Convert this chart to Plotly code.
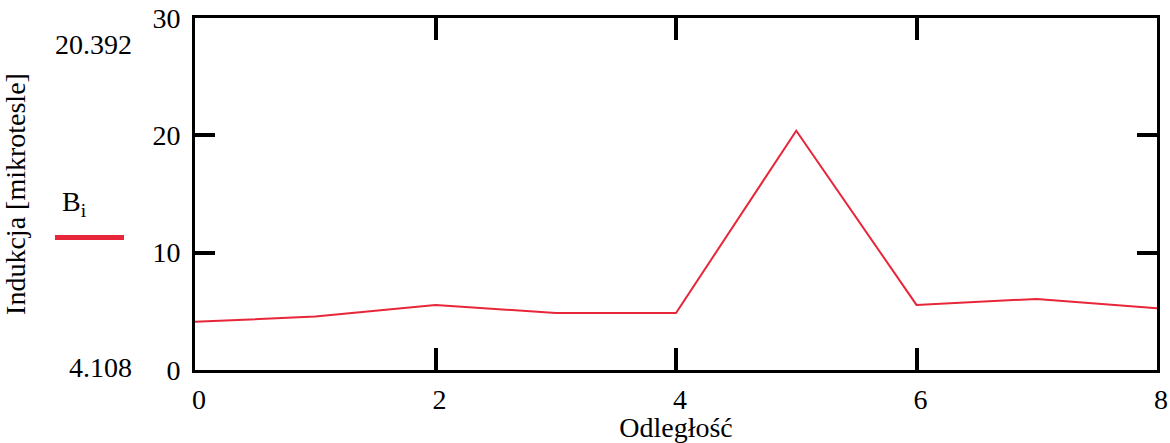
import plotly.graph_objects as go

distance = [0, 1, 2, 3, 4, 5, 6, 7, 8]
induction = [4.108, 4.55, 5.55, 4.86, 4.86, 20.392, 5.55, 6.06, 5.26]
x_ticks = [0, 2, 4, 6, 8]
y_ticks = [0, 10, 20, 30]

RED = "#e8263a"
FONT = "Liberation Serif"
FS = 28

W, H = 1170, 443
L, R, T, B = 195, 13, 18, 73

fig = go.Figure()
fig.add_trace(go.Scatter(x=distance, y=induction, mode="lines",
                         line=dict(color=RED, width=2), showlegend=False,
                         name="B<sub>i</sub>"))

axis_common = dict(showgrid=False, zeroline=False, showline=True, linecolor="black",
                   linewidth=3, mirror="allticks", ticks="inside", tickcolor="black",
                   tickwidth=4, automargin=False,
                   tickfont=dict(family=FONT, size=FS, color="black"))

fig.update_xaxes(range=[0, 8], tickvals=x_ticks, ticklen=22,
                 title=dict(text="Odległość", font=dict(family=FONT, size=FS, color="black"),
                            standoff=6),
                 ticklabelstandoff=2, ticklabelshift=4, **axis_common)
fig.update_yaxes(range=[0, 30], tickvals=y_ticks, ticklen=20,
                 title=dict(text="Indukcja [mikrotesle]",
                            font=dict(family=FONT, size=FS, color="black"), standoff=125),
                 ticklabelstandoff=6, **axis_common)

plot_h = H - T - B
plot_w = W - L - R
def px_x(px):
    return (px - L) / plot_w
def px_y(py):
    return (H - B - py) / plot_h

ymax, ymin = max(induction), min(induction)
fig.add_annotation(xref="paper", yref="paper", x=px_x(134), y=px_y(45),
                   xanchor="right", yanchor="middle", text=f"{ymax:.3f}",
                   showarrow=False, font=dict(family=FONT, size=FS, color="black"))
fig.add_annotation(xref="paper", yref="paper", x=px_x(134), y=px_y(367),
                   xanchor="right", yanchor="middle", text=f"{ymin:.3f}",
                   showarrow=False, font=dict(family=FONT, size=FS, color="black"))
fig.add_annotation(xref="paper", yref="paper", x=px_x(60), y=px_y(204),
                   xanchor="left", yanchor="middle", text="B<sub>i</sub>",
                   showarrow=False, font=dict(family=FONT, size=FS, color="black"))
fig.add_shape(type="line", xref="paper", yref="paper",
              x0=px_x(55), x1=px_x(124), y0=px_y(237.5), y1=px_y(237.5),
              line=dict(color=RED, width=5))

fig.update_layout(width=W, height=H, margin=dict(l=L, r=R, t=T, b=B),
                  plot_bgcolor="white", paper_bgcolor="white",
                  font=dict(family=FONT, color="black"))

fig.write_html("out.html", config={"displayModeBar": False},
               post_script="document.body.style.margin='0';")
